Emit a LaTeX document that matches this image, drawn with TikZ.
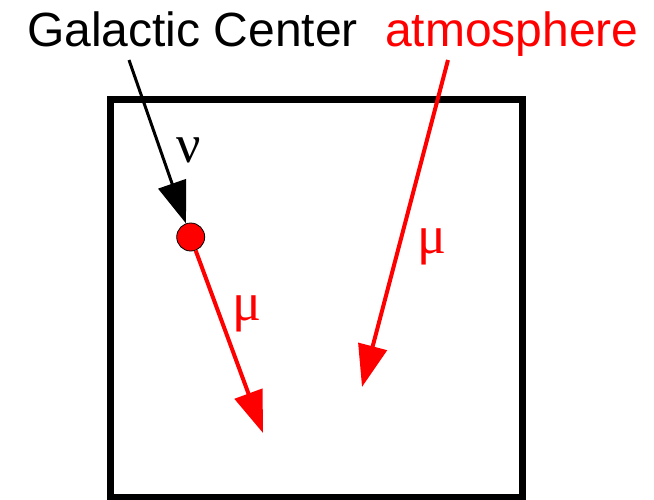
\documentclass[tikz,border=0pt]{standalone}
\usepackage{fontspec}
\setmainfont{Liberation Sans}
\newfontfamily\greekfont{Liberation Serif}
\usetikzlibrary{arrows.meta}
\definecolor{myred}{RGB}{255,0,0}
\begin{document}
\begin{tikzpicture}[x=1pt,y=-1pt,
  lbl/.style={font=\fontsize{48}{50}\selectfont, inner sep=0pt, anchor=base west},
  greek/.style={font=\greekfont\fontsize{54}{58}\selectfont, inner sep=0pt},
  arr/.style={-{Triangle[length=42pt,width=29pt]}},
]
\useasboundingbox (0,0) rectangle (654,499);
\draw[line width=7pt] (110.5,99.5) rectangle (522.5,497.5);
\node[lbl] (gc) at (27,46) {Galactic Center};
\node[lbl, text=myred] (atm) at (385,46) {atmosphere};
\node[circle, fill=myred, draw=black, line width=0.8pt, minimum size=28pt, inner sep=0pt] (dot) at (190.7,237) {};
\coordinate (gcstart) at (129,60);
\coordinate (atmstart) at (448,60);
\coordinate (atmtip) at (362,387);
\coordinate (mutip) at (263,433);
\draw[arr, line width=3pt, black] (gcstart) -- (dot);
\draw[arr, line width=4pt, myred] (dot) -- (mutip);
\draw[arr, line width=4pt, myred] (atmstart) -- (atmtip);
\node[greek] (nu) at (189,150) {ν};
\node[greek, text=myred] (mu1) at (247,314) {μ};
\node[greek, text=myred] (mu2) at (432,247) {μ};
\end{tikzpicture}
\end{document}
